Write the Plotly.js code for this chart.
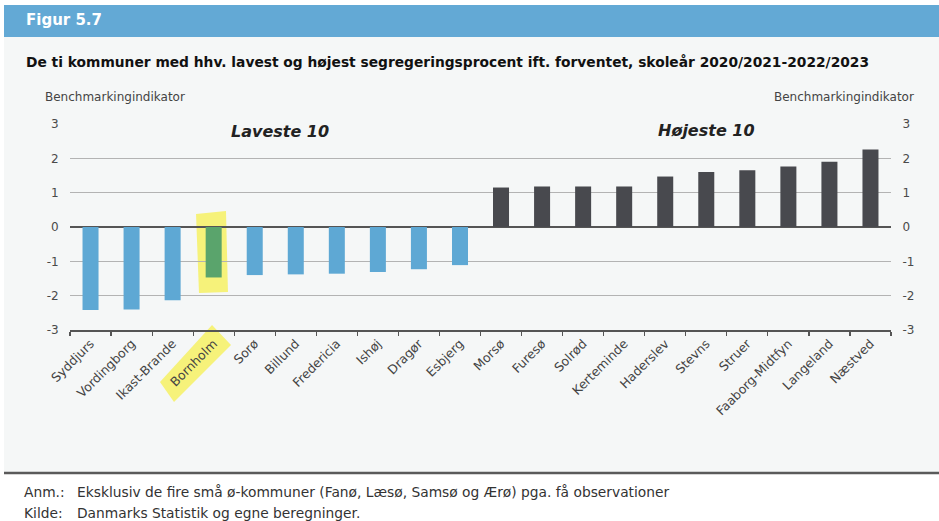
<!DOCTYPE html>
<html>
<head>
<meta charset="utf-8">
<script src="https://cdn.plot.ly/plotly-3.0.1.min.js"></script>
<style>
html,body{margin:0;padding:0;background:#fff;}
#chart{width:939px;height:521px;}
</style>
</head>
<body>
<div id="chart"></div>
<script>
// ---- data ----
const lowestNames = ["Syddjurs","Vordingborg","Ikast-Brande","Bornholm","Sorø","Billund","Fredericia","Ishøj","Dragør","Esbjerg"];
const lowestValues = [-2.42,-2.40,-2.13,-1.47,-1.40,-1.38,-1.36,-1.31,-1.23,-1.11];
const highestNames = ["Morsø","Furesø","Solrød","Kerteminde","Haderslev","Stevns","Struer","Faaborg-Midtfyn","Langeland","Næstved"];
const highestValues = [1.15,1.18,1.18,1.18,1.47,1.60,1.65,1.76,1.90,2.26];
const highlighted = "Bornholm";
const yTicks = [-3,-2,-1,0,1,2,3];
const yTickLabels = ["-3","-2","-1","0","1","2","3"];

const colLow = "#5ea8d4", colHigh = "#48494e", colHi = "#5aa46c";

const cats = lowestNames.concat(highestNames);
const vals = lowestValues.concat(highestValues);
const colors = cats.map((c,i)=> c===highlighted ? colHi : (i<lowestNames.length ? colLow : colHigh));

// geometry helpers (pixel -> paper)
const L=70, R=891, T=124, B=330;
const px = p => (p-L)/(R-L);
const py = p => (B-p)/(B-T);
const path = pts => "M " + pts.map(p=>px(p[0]).toFixed(4)+","+py(p[1]).toFixed(4)).join(" L ") + " Z";

const font = "DejaVu Sans, Verdana, sans-serif";

const traces = [
  {type:"bar", x:cats, y:vals, marker:{color:colors}, hoverinfo:"x+y", xaxis:"x", yaxis:"y"},
  {type:"scatter", mode:"markers", x:cats, y:vals, marker:{opacity:0}, hoverinfo:"skip", xaxis:"x", yaxis:"y2", showlegend:false}
];

const axisY = {
  range:[-3,3], tickmode:"array", tickvals:yTicks, ticktext:yTickLabels, fixedrange:true, automargin:false,
  tickfont:{family:font,size:12,color:"#4a4a4a"},
  ticks:"outside", ticklen:8, tickcolor:"rgba(0,0,0,0)"
};

const layout = {
  width:939, height:521,
  margin:{l:L, r:939-R, t:T, b:521-B},
  paper_bgcolor:"#ffffff", plot_bgcolor:"rgba(0,0,0,0)",
  showlegend:false, bargap:0.61,
  xaxis:{
    type:"category", range:[-0.5, cats.length-0.5], tickangle:-45, tickson:"boundaries", automargin:false,
    ticks:"outside", ticklen:4, tickcolor:"#555", tickwidth:1.2,
    showline:true, linecolor:"#555", linewidth:1.5, showgrid:false,
    tickfont:{family:font,size:12.5,color:"#444"}, fixedrange:true
  },
  yaxis:Object.assign({}, axisY, {
    showgrid:true, gridcolor:"#b3b3b3", gridwidth:1.5,
    zeroline:true, zerolinecolor:"#555", zerolinewidth:1.5
  }),
  yaxis2:Object.assign({}, axisY, {overlaying:"y", side:"right", showgrid:false, zeroline:false}),
  shapes:[
    {type:"rect", xref:"paper", yref:"paper", layer:"below", x0:px(4), x1:px(939), y0:py(37), y1:py(472), fillcolor:"#f5f7f7", line:{width:0}},
    {type:"rect", xref:"paper", yref:"paper", layer:"below", x0:px(4), x1:px(939), y0:py(5), y1:py(37), fillcolor:"#63a9d5", line:{width:0}},
    {type:"line", xref:"paper", yref:"paper", x0:px(4), x1:px(939), y0:py(473), y1:py(473), line:{color:"#5a5a5a", width:2.5}},
    {type:"path", xref:"paper", yref:"paper", layer:"below", path:path([[196,214],[226,211],[228,292],[199,293]]), fillcolor:"#f6f27a", line:{width:0}},
    {type:"path", xref:"paper", yref:"paper", layer:"below", path:path([[160,382],[174,402],[231,345],[212,325]]), fillcolor:"#f6f27a", line:{width:0}}
  ],
  annotations:[
    {xref:"paper", yref:"paper", x:px(24), y:py(20), xanchor:"left", yanchor:"middle", showarrow:false,
     text:"<b>Figur 5.7</b>", font:{family:font,size:15,color:"#ffffff"}},
    {xref:"paper", yref:"paper", x:px(24), y:py(62), xanchor:"left", yanchor:"middle", showarrow:false,
     text:"<b>De ti kommuner med hhv. lavest og højest segregeringsprocent ift. forventet, skoleår 2020/2021-2022/2023</b>",
     font:{family:font,size:13.8,color:"#111"}},
    {xref:"paper", yref:"paper", x:px(43), y:py(97), xanchor:"left", yanchor:"middle", showarrow:false,
     text:"Benchmarkingindikator", font:{family:font,size:12,color:"#444"}},
    {xref:"paper", yref:"paper", x:px(916), y:py(97), xanchor:"right", yanchor:"middle", showarrow:false,
     text:"Benchmarkingindikator", font:{family:font,size:12,color:"#444"}},
    {xref:"paper", yref:"paper", x:px(280), y:py(131), xanchor:"center", yanchor:"middle", showarrow:false,
     text:"<b><i>Laveste 10</i></b>", font:{family:font,size:16,color:"#222"}},
    {xref:"paper", yref:"paper", x:px(706), y:py(130), xanchor:"center", yanchor:"middle", showarrow:false,
     text:"<b><i>Højeste 10</i></b>", font:{family:font,size:16,color:"#222"}},
    {xref:"paper", yref:"paper", x:px(22), y:py(492), xanchor:"left", yanchor:"middle", showarrow:false,
     text:"Anm.:", font:{family:font,size:13.8,color:"#333"}},
    {xref:"paper", yref:"paper", x:px(75), y:py(492), xanchor:"left", yanchor:"middle", showarrow:false,
     text:"Eksklusiv de fire små ø-kommuner (Fanø, Læsø, Samsø og Ærø) pga. få observationer", font:{family:font,size:13.8,color:"#333"}},
    {xref:"paper", yref:"paper", x:px(22), y:py(513), xanchor:"left", yanchor:"middle", showarrow:false,
     text:"Kilde:", font:{family:font,size:13.8,color:"#333"}},
    {xref:"paper", yref:"paper", x:px(75), y:py(513), xanchor:"left", yanchor:"middle", showarrow:false,
     text:"Danmarks Statistik og egne beregninger.", font:{family:font,size:13.8,color:"#333"}}
  ]
};

Plotly.newPlot("chart", traces, layout, {displayModeBar:false, staticPlot:true});
</script>
</body>
</html>
